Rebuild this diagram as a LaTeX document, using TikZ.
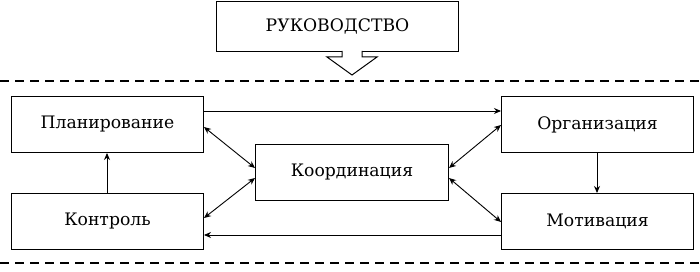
\documentclass[tikz,border=0pt]{standalone}
\usepackage{fontspec}
\setmainfont{DejaVu Serif}
\usetikzlibrary{arrows.meta}
\begin{document}
\begin{tikzpicture}[x=1pt,y=-1pt,
  box/.style={draw,line width=1pt,inner sep=0pt},
  conn/.style={line width=0.9pt,-{Stealth[length=7pt,width=6pt]}},
  dconn/.style={line width=0.9pt,{Stealth[length=7pt,width=6pt]}-{Stealth[length=7pt,width=6pt]}},
  sep/.style={line width=1.6pt,dash pattern=on 9pt off 6pt},
  lbl/.style={font=\fontsize{17.2}{19}\selectfont}]
\useasboundingbox (0,0) rectangle (700,272);
\node[box,minimum width=242pt,minimum height=50pt,anchor=north west,lbl] (ruk) at (216,1) {РУКОВОДСТВО};
\node[box,minimum width=192pt,minimum height=56pt,anchor=north west,lbl] (plan) at (11,96) {Планирование};
\node[box,minimum width=192pt,minimum height=56pt,anchor=north west,lbl] (kontr) at (11,193) {Контроль};
\node[box,minimum width=193pt,minimum height=56pt,anchor=north west,lbl] (koord) at (255,144) {Координация};
\node[box,minimum width=192pt,minimum height=56pt,anchor=north west,lbl] (org) at (501,96) {Организация};
\node[box,minimum width=192pt,minimum height=56pt,anchor=north west,lbl] (motiv) at (501,193) {Мотивация};
% hollow arrow
\draw[line width=1pt,fill=white] (342,51) -- (342,57) -- (327,57) -- (352,75) -- (377,57) -- (362,57) -- (362,51);
\coordinate (dl1) at (0,81); \coordinate (dr1) at (700,81);
\coordinate (dl2) at (0,263); \coordinate (dr2) at (700,263);
\draw[sep] (dl1) -- (dr1);
\draw[sep] (dl2) -- (dr2);
\draw[conn] (plan.east |- 0,111) -- (org.west |- 0,111);
\draw[conn] (motiv.west |- 0,235) -- (kontr.east |- 0,235);
\draw[conn] (kontr.north -| 107,0) -- (plan.south -| 107,0);
\draw[conn] (org.south -| 597,0) -- (motiv.north -| 597,0);
\draw[dconn] (plan.east |- 0,127) -- (koord.west |- 0,168);
\draw[dconn] (kontr.east |- 0,218) -- (koord.west |- 0,178);
\draw[dconn] (koord.east |- 0,168) -- (org.west |- 0,125);
\draw[dconn] (koord.east |- 0,178) -- (motiv.west |- 0,222);
\end{tikzpicture}
\end{document}
